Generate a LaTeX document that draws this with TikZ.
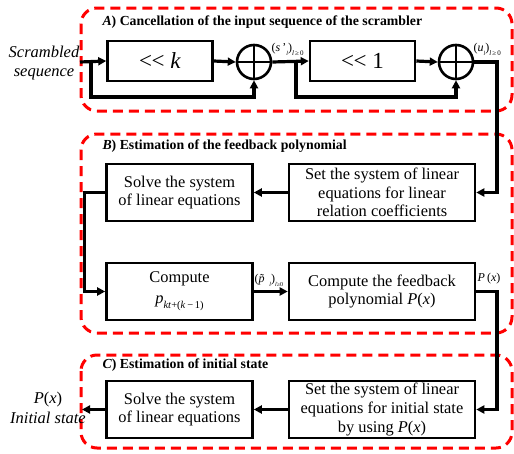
\documentclass[tikz,border=0pt]{standalone}
\usepackage{fontspec}
\setmainfont{Liberation Serif}
\usetikzlibrary{arrows.meta}
% small lowered index set in the text font
\newcommand{\lowidx}[2][8]{\raisebox{-0.35em}{\fontsize{#1}{#1}\selectfont #2}}
% two less-than signs, kept apart so they do not join into a guillemet
\newcommand{\shl}{<\kern-0.5pt<}
\begin{document}
\begin{tikzpicture}[x=1pt,y=-1pt,
  blk/.style={draw,line width=2.6pt,minimum width=#1,minimum height=57pt,
    inner sep=2pt,align=center,font=\fontsize{16.4}{18.6}\selectfont},
  blk/.default=146pt,
  shiftbox/.style={draw,line width=2.6pt,minimum width=105pt,minimum height=40pt,
    inner sep=0pt,font=\fontsize{23}{24}\selectfont},
  xorc/.style={draw,circle,line width=2.6pt,minimum size=34pt,inner sep=0pt,
    path picture={\draw[line width=2.6pt]
      (path picture bounding box.north) -- (path picture bounding box.south)
      (path picture bounding box.west) -- (path picture bounding box.east);}},
  wire/.style={line width=3.2pt},
  arr/.style={wire,-{Triangle[length=8pt,width=8pt]}},
  group/.style={draw=red,line width=3pt,dash pattern=on 10pt off 6pt,rounded corners=16pt},
  gtitle/.style={anchor=west,font=\fontsize{13.8}{15}\selectfont\bfseries},
  lbl/.style={font=\fontsize{12}{13}\selectfont,inner sep=0.5pt}]
\useasboundingbox (0,0) rectangle (514,453);

% dashed group frames
\draw[group] (81,8) rectangle (512,111);
\draw[group] (81,134) rectangle (512,333);
\draw[group] (81,355) rectangle (512,448);

\node[gtitle] (ta) at (99,22) {\textit{A}) Cancellation of the input sequence of the scrambler};
\node[gtitle] (tb) at (99,146) {\textit{B}) Estimation of the feedback polynomial};
\node[gtitle] (tc) at (99,365) {\textit{C}) Estimation of initial state};

% stage A: shift and add
\node[shiftbox] (shk) at (160,61) {\shl\ \textit{k}};
\node[xorc] (xa) at (254,62) {};
\node[shiftbox] (sh1) at (362.5,61) {\shl\ 1};
\node[xorc] (xb) at (456,62) {};

\node[align=center,font=\fontsize{16.5}{18.5}\selectfont\itshape] (src) at (44,63)
  {Scrambled\\ sequence};
\coordinate (inp) at (80,62);
\coordinate (ba) at (91,62);
\coordinate (bb) at (296,62);
\coordinate (turn) at (497,62);

\draw[arr] (inp) -- (shk.west);
\draw[arr] (ba) -- (91,97) -| (xa.south);
\draw[arr] (shk.east) -- (xa.west);
\draw[arr] (xa.east) -- (sh1.west);
\draw[arr] (bb) -- (296,97) -| (xb.south);
\draw[arr] (sh1.east) -- (xb.west);

\node[lbl,anchor=south west] (sl) at (271,56)
  {(\textit{s}\,'\lowidx[6]{\textit{l}})\lowidx[7]{\textit{l}\,≥\,0}};
\node[lbl,anchor=south west] (ul) at (473,56)
  {(\textit{u}\lowidx[6]{\textit{l}})\lowidx[7]{\textit{l}\,≥\,0}};

% stage B: feedback polynomial
\node[blk=186pt] (setb) at (382,192.5) {Set the system of linear\\ equations for linear\\ relation coefficients};
\node[blk] (solb) at (179.5,192.5) {Solve the system\\ of linear equations};
\node[blk] (cmpb) at (179.5,291.5) {Compute\\[2pt] \textit{p}\lowidx[10.5]{\textit{kt}+(\textit{k}\,−\,1)}};
\node[blk=186pt] (fbb) at (382,291.5) {Compute the feedback\\ polynomial \textit{P}(\textit{x})};

\draw[arr] (xb.east) -- (turn) |- (setb.east);
\draw[arr] (setb.west) -- (solb.east);
\draw[arr] (solb.west) -- ++(-21,0) |- (cmpb.west);
\draw[arr] (cmpb.east) -- (fbb.west);
\node[lbl,anchor=south west] (pl) at (254,287)
  {(\textit{\~{p}}\lowidx[6]{\textit{l}})\lowidx[6]{\textit{l}≥0}};

\coordinate (turn2) at (497,291.5);
\node[lbl] (px) at (489,279) {\textit{P}\,(\textit{x})};

% stage C: initial state
\node[blk=186pt] (setc) at (382,409.5) {Set the system of linear\\ equations for initial state\\ by using \textit{P}(\textit{x})};
\node[blk] (solc) at (179.5,409.5) {Solve the system\\ of linear equations};
\coordinate (outp) at (82,409.5);

\draw[arr] (fbb.east) -- (turn2) |- (setc.east);
\draw[arr] (setc.west) -- (solc.east);
\draw[arr] (solc.west) -- (outp);

\node[align=center,font=\fontsize{16.5}{20}\selectfont] (res) at (48,408)
  {\textit{P}(\textit{x})\\ \textit{Initial state}};
\end{tikzpicture}
\end{document}
